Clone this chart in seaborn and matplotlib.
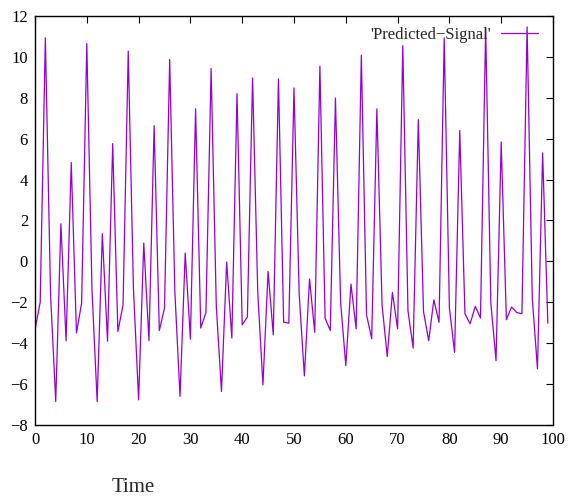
import numpy as np
import pandas as pd
import matplotlib
matplotlib.use("Agg")
import matplotlib.pyplot as plt
import seaborn as sns

# values, one per time step
time = list(range(100))
signal = [-3.34, -2.0, 10.93, -1.6, -6.85, 1.84, -3.88, 4.84, -3.5, -2.04,
          10.65, -1.4, -6.85, 1.35, -3.9, 5.76, -3.43, -2.12, 10.28, -1.3,
          -6.77, 0.9, -3.88, 6.64, -3.38, -2.28, 9.87, -1.5, -6.6, 0.41,
          -3.8, 7.46, -3.26, -2.5, 9.43, -2.2, -6.36, -0.03, -3.75, 8.2,
          -3.1, -2.72, 8.97, -1.5, -6.04, -0.49, -3.59, 8.92, -2.97, -3.02,
          8.48, -1.6, -5.6, -0.86, -3.47, 9.54, -2.77, -3.38, 7.99, -2.0,
          -5.09, -1.11, -3.3, 10.08, -2.61, -3.78, 7.46, -2.12, -4.65, -1.52,
          -3.3, 10.55, -2.41, -4.24, 6.93, -2.45, -3.88, -1.88, -2.98, 10.93,
          -2.28, -4.45, 6.4, -2.56, -3.05, -2.2, -2.77, 11.42, -2.04, -4.85,
          5.84, -2.85, -2.23, -2.5, -2.56, 11.47, -1.8, -5.25, 5.3, -3.02]
xticks = list(range(0, 101, 10))
yticks = list(range(-8, 13, 2))

df = pd.DataFrame({"Time": time, "signal": signal})

sns.set_style("white")
plt.rcParams['font.family'] = ['Liberation Serif', 'DejaVu Serif']
plt.rcParams['axes.unicode_minus'] = True

fig = plt.figure(figsize=(5.71, 5.04), dpi=100)
ax = fig.add_axes([35/571, 1 - 425/504, (553 - 35)/571, (425 - 16)/504])

sns.lineplot(data=df, x="Time", y="signal", ax=ax, color="#9400D3",
             linewidth=0.9, label="'Predicted\u2212Signal'")

ax.set_xlim(0, 100)
ax.set_ylim(-8, 12)
ax.set_xticks(xticks)
ax.set_yticks(yticks)
ax.tick_params(direction="in", length=5, width=0.8, top=True, right=True,
               labelsize=12, colors="black", pad=5)
for s in ax.spines.values():
    s.set_visible(True)
    s.set_color("black")
    s.set_linewidth(1.0)

ax.set_ylabel("")
ax.set_xlabel("Time", fontsize=15)
ax.xaxis.set_label_coords((133 - 35)/518, (425 - 488)/409)
ax.xaxis.label.set_va("center")

leg = ax.legend(loc="upper right", bbox_to_anchor=(0.99, 0.998), frameon=False,
                markerfirst=False, fontsize=12, handlelength=2.2,
                handletextpad=0.6, borderaxespad=0.2)

fig.savefig("out.png", dpi=100)
